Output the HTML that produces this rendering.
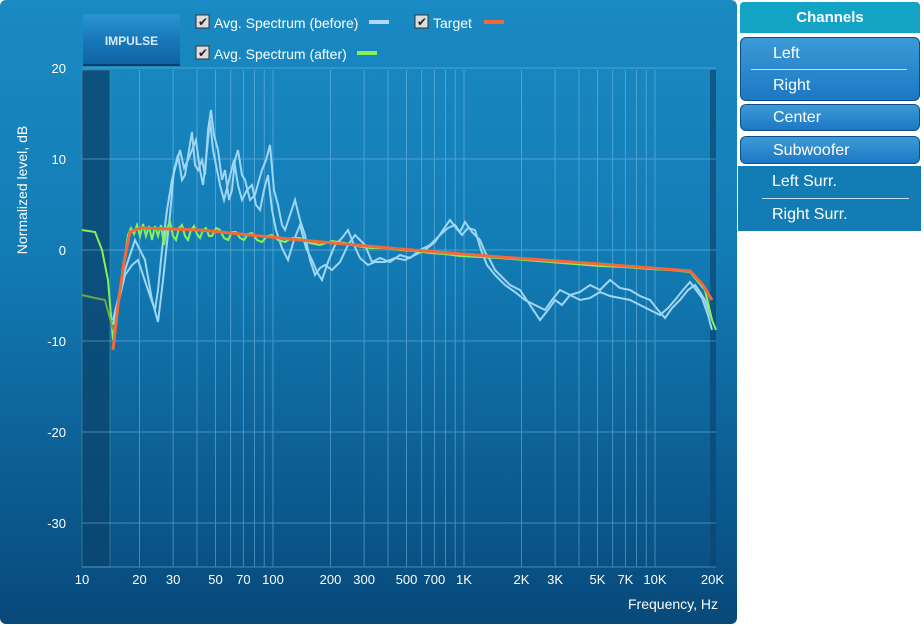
<!DOCTYPE html>
<html><head><meta charset="utf-8"><style>
body{margin:0;width:924px;height:627px;background:#fff;font-family:"Liberation Sans",sans-serif;overflow:hidden;position:relative}
#panel{position:absolute;left:0;top:0;width:737px;height:624px;border-radius:6px;background:linear-gradient(#1a8ac3,#137cb5 40%,#0b5a8f 80%,#08497a)}
.btn{position:absolute;left:740px;width:180px;color:#fff;font-size:16px;box-sizing:border-box}
.rb{background:linear-gradient(#3d9ad6,#1c78c4);border:1px solid #0d4f86;border-radius:6px}
</style></head><body>
<div id="panel"></div>
<svg style="position:absolute;left:0;top:0" width="737" height="627" id="s">
<g font-size="14" fill="#fff">
<rect x="196" y="15" width="13" height="13" fill="#ddd" stroke="#333"/><text x="214" y="28">Avg. Spectrum (before)</text><rect x="369" y="20" width="20" height="4" fill="#a8dcf7"/>
<rect x="415" y="15" width="13" height="13" fill="#ddd" stroke="#333"/><text x="433" y="28">Target</text><rect x="484" y="20" width="20" height="4" fill="#f06a3c"/>
<rect x="196" y="46" width="13" height="13" fill="#ddd" stroke="#333"/><text x="214" y="59">Avg. Spectrum (after)</text><rect x="357" y="51" width="20" height="4" fill="#86f05a"/>
<text x="198" y="26" fill="#222" font-size="12">✔</text><text x="417" y="26" fill="#222" font-size="12">✔</text><text x="198" y="57" fill="#222" font-size="12">✔</text>
</g>
<rect x="82" y="70" width="28" height="497" fill="#0b4670" opacity="0.8" stroke="#6aa" stroke-width="0.5"/>
<rect x="710" y="70" width="6" height="497" fill="#0b4670" opacity="0.7"/>
<g id="grid" stroke="#8ccbef" stroke-width="1" opacity="0.45"></g>
<g id="lab" fill="#fff" font-size="13"></g>
<text x="27" y="190" fill="#fff" font-size="14" transform="rotate(-90 27 190)" text-anchor="middle">Normalized level, dB</text>
<text x="718" y="609" fill="#fff" font-size="14" text-anchor="end">Frequency, Hz</text>
<path fill="none" stroke="#9ed6f5" stroke-width="2" d="M113,320 L125,270 135,240 145,260 152,300 158,322 163,280 170,215 174,170 178,155 182,180 185,175 189,150 192,132 195,165 198,170 202,160 205,175 208,130 211,110 214,135 218,150 222,180 225,170 229,200 232,190 235,160 238,150 242,175 245,180 250,200 255,195 259,180 262,170 266,160 270,145 274,190 278,205 282,225 285,230 290,215 295,200 300,220 305,235 310,260 315,275 320,268 325,265 332,270 340,262 348,245 355,235 360,240 365,245 372,262 380,258 390,262 400,255 410,258 420,250 430,245 440,235 448,228 455,225 460,232 465,222 472,232 480,240 485,252 490,260 495,270 500,275 510,285 520,290 530,305 540,320 548,310 555,300 562,305 570,295 580,292 590,285 600,290 610,280 620,288 630,290 640,296 650,300 658,310 665,318 672,308 680,300 688,290 695,285 700,292 705,300 712,320"/>
<path fill="none" stroke="#9ed6f5" stroke-width="2" d="M113,325 L125,275 132,265 138,260 143,275 148,290 155,310 158,290 162,250 167,210 172,180 176,165 180,150 184,168 188,160 192,150 196,140 200,170 203,185 207,150 210,120 213,150 216,165 220,185 224,200 229,180 234,160 238,185 242,200 247,190 252,185 256,205 260,210 264,190 268,175 272,210 276,230 282,248 288,260 294,240 300,225 306,248 312,260 317,272 322,280 328,262 335,245 342,238 348,230 354,245 360,258 368,265 375,262 385,262 395,258 405,260 415,255 425,250 435,242 443,230 450,220 456,228 462,235 468,228 475,230 481,250 487,265 495,275 505,285 515,292 525,300 535,305 545,310 552,300 560,290 570,295 580,300 590,298 600,292 610,296 620,298 630,300 640,305 650,310 660,315 668,308 675,300 683,290 690,282 696,290 702,298 708,315 712,330"/>
<path fill="none" stroke="#86f05a" stroke-width="2" d="M82,230 L95,232 102,250 108,280 113,340 120,290 128,235 131,228 134,234 137,225 140,236 143,224 146,236 149,226 152,240 155,226 158,236 161,225 164,245 167,228 170,222 173,236 176,240 179,228 182,225 185,236 188,240 191,230 194,226 197,234 200,238 203,230 206,228 209,236 212,236 216,228 220,230 224,238 228,240 232,232 236,232 240,238 244,240 248,234 252,233 257,240 262,242 267,236 272,235 278,240 285,242 292,238 300,238 310,243 320,245 332,241 345,243 357,246 370,248 385,248 400,250 415,251 430,253 445,254 460,256 480,257 500,258 525,260 550,262 575,264 600,266 625,267 650,269 670,270 690,272 705,290 712,320 716,330"/>
<path fill="none" stroke="#6aa84f" stroke-width="2" d="M82,295 L95,298 105,300 113,330"/>
<path fill="none" stroke="#f06a3c" stroke-width="3" d="M113,350 L118,305 124,262 130,232 140,228 200,230 300,240 400,249 500,257 600,264 690,271 703,285 712,300"/>
</svg>
<div style="position:absolute;left:83px;top:14px;width:97px;height:50px;background:linear-gradient(#2b95d0,#1878bb 50%,#0f64a3);border-bottom:2px solid #0a3f6a;color:#d8ecf8;font-size:12px;font-weight:bold;line-height:54px;text-align:center">IMPULSE</div>
<div class="btn" style="top:2px;height:31px;background:#13a3c4;border-radius:4px 4px 0 0;text-align:center;font-weight:bold;font-size:15px;line-height:31px">Channels</div>
<div class="btn rb" style="top:37px;height:64px"><div style="padding-left:32px;line-height:31px">Left</div><div style="margin:0 12px 0 10px;border-top:1px solid #bfe0f5"></div><div style="padding-left:32px;line-height:31px">Right</div></div>
<div class="btn rb" style="top:104px;height:27px;line-height:26px;padding-left:32px">Center</div>
<div class="btn rb" style="top:136px;height:28px;line-height:27px;padding-left:32px">Subwoofer</div>
<div class="btn" style="top:166px;height:65px;background:#137cb5;left:738px;width:183px"><div style="padding-left:34px;line-height:32px">Left Surr.</div><div style="margin:0 12px 0 24px;border-top:1px solid #bfe0f5"></div><div style="padding-left:34px;line-height:31px">Right Surr.</div></div>
<script>
var g=document.getElementById('grid'),l=document.getElementById('lab'),ns='http://www.w3.org/2000/svg';
function X(f){return 82+191*Math.log10(f/10);}
function add(p,t,a){var e=document.createElementNS(ns,t);for(var k in a)e.setAttribute(k,a[k]);p.appendChild(e);return e;}
var fs=[];for(var d=10;d<=10000;d*=10)for(var m=1;m<10;m++)fs.push(d*m);fs.push(20000);
fs.forEach(function(f){var x=X(f);if(f>10&&f<20000)add(g,'line',{x1:x,x2:x,y1:70,y2:567});});
for(var v=20;v>=-30;v-=10){var y=250-v*9.1;add(g,'line',{x1:82,x2:716,y1:y,y2:y});var t=add(l,'text',{x:66,y:y+5,'text-anchor':'end'});t.textContent=v;}
add(g,'line',{x1:82,x2:716,y1:567,y2:567});
[[10,'10'],[20,'20'],[30,'30'],[50,'50'],[70,'70'],[100,'100'],[200,'200'],[300,'300'],[500,'500'],[700,'700'],[1000,'1K'],[2000,'2K'],[3000,'3K'],[5000,'5K'],[7000,'7K'],[10000,'10K'],[20000,'20K']].forEach(function(a){var t=add(l,'text',{x:X(a[0]),y:584,'text-anchor':'middle'});t.textContent=a[1];});
</script>
</body></html>
